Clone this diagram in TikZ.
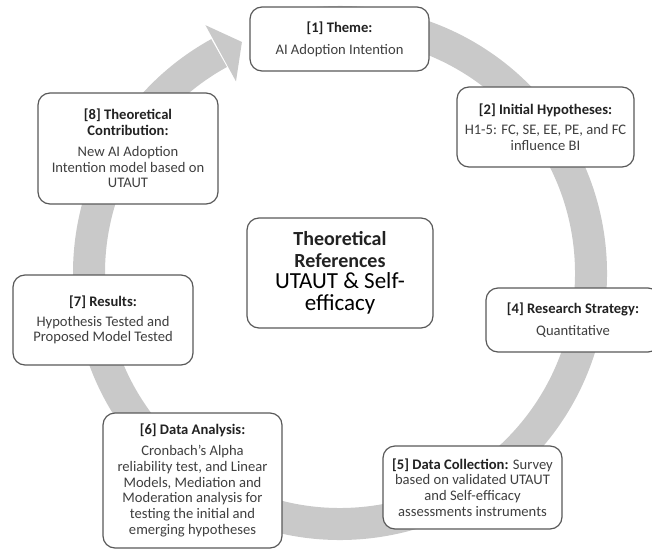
\documentclass[tikz,border=0pt]{standalone}
\usepackage{fontspec}
\setmainfont{Carlito}
\definecolor{ringgray}{HTML}{C9C9C9}
\definecolor{boxline}{HTML}{595959}
\definecolor{bodytext}{HTML}{3F3F3F}
\definecolor{titletext}{HTML}{222222}
\tikzset{
  stagebox/.style={draw=boxline, line width=1.2pt, rounded corners=12pt, fill=white,
    align=center, inner sep=0pt, text=bodytext,
    font=\fontsize{14.6}{15.8}\selectfont},
  ringband/.style={draw=ringgray, line width=32pt},
  ringhead/.style={fill=ringgray},
}
\newcommand{\ttl}[1]{{\bfseries\color{titletext}#1}}
\begin{document}
\begin{tikzpicture}[x=1pt,y=1pt]
\useasboundingbox (0,0) rectangle (652,550);
\coordinate (c) at (340,277);
% circular arrow
\draw[ringband] ([shift={(95:251)}]c) arc[start angle=95, end angle=-241.2, radius=251];
\fill[ringhead] ([shift={(118.5:218)}]c) -- ([shift={(118.5:282)}]c) -- ([shift={(113:251)}]c) -- cycle;
% boxes
\node[stagebox, minimum width=179pt, minimum height=64pt] (s1) at (339.5,511)
  {\ttl{[1] Theme:}\\[6pt]AI Adoption Intention};
\node[stagebox, minimum width=177pt, minimum height=80pt] (s2) at (545.5,423)
  {\ttl{[2] Initial Hypotheses:}\\[4pt]H1-5: FC, SE, EE, PE, and FC\\influence BI};
\node[stagebox, minimum width=180pt, minimum height=111pt] (s8) at (128,401.5)
  {\ttl{[8] Theoretical}\\\ttl{Contribution:}\\[5pt]New AI Adoption\\Intention model based on\\UTAUT};
\node[stagebox, minimum width=186pt, minimum height=110pt,
  font=\fontsize{23}{21.5}\selectfont] (ctr) at (340,277)
  {{\fontsize{20}{21.5}\selectfont\ttl{Theoretical}}\\{\fontsize{20}{21.5}\selectfont\ttl{References}}\\{\color{black}UTAUT \& Self-}\\{\color{black}efficacy}};
\node[stagebox, minimum width=180pt, minimum height=90pt] (s7) at (103,230)
  {\ttl{[7] Results:}\\[4pt]Hypothesis Tested and\\Proposed Model Tested};
\node[stagebox, minimum width=174pt, minimum height=64pt] (s4) at (573,230)
  {\ttl{[4] Research Strategy:}\\[6pt]Quantitative};
\node[stagebox, minimum width=179pt, minimum height=135pt] (s6) at (192.5,69.5)
  {\ttl{[6] Data Analysis:}\\[5pt]Cronbach's Alpha\\reliability test, and Linear\\Models, Mediation and\\Moderation analysis for\\testing the initial and\\emerging hypotheses};
\node[stagebox, minimum width=179pt, minimum height=83pt] (s5) at (472.5,62.5)
  {\ttl{[5] Data Collection:} Survey\\based on validated UTAUT\\and Self-efficacy\\assessments instruments};
\end{tikzpicture}
\end{document}
